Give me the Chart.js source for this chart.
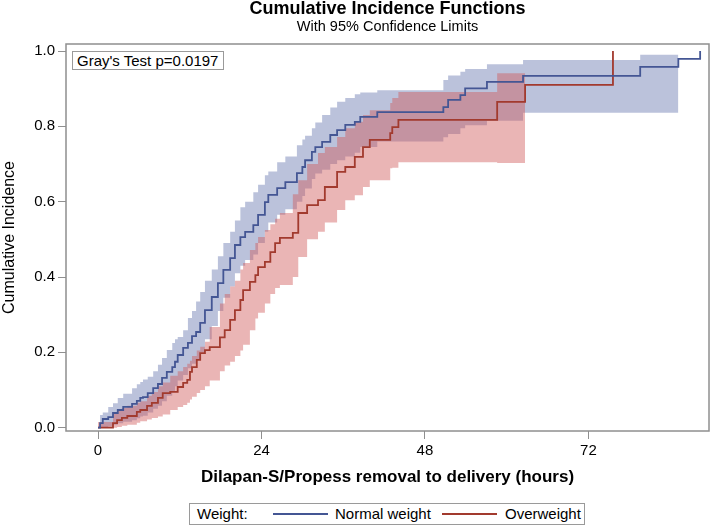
<!DOCTYPE html>
<html>
<head>
<meta charset="utf-8">
<title>Cumulative Incidence Functions</title>
<script src="https://cdn.jsdelivr.net/npm/chart.js@4.4.1/dist/chart.umd.min.js"></script>
<style>
    body { margin: 0; background: #fff; }
    #wrap { position: relative; width: 710px; height: 526px; font-family: "Liberation Sans", Arial, sans-serif; color: #000; }
    #chart { position: absolute; left: 0; top: 0; }
    .gray-test { position: absolute; left: 72px; top: 51px; width: 146px; height: 17px; padding-left: 4px;
        border: 1px solid #9a9a9a; background: #fff; font-size: 15px; line-height: 17px; white-space: nowrap; }
    .legend { position: absolute; left: 189px; top: 503px; width: 394px; height: 20px; border: 1px solid #9a9a9a; background: #fff; }
    .legend span { position: absolute; top: 0; font-size: 15px; line-height: 20px; white-space: nowrap; }
    .legend i { position: absolute; top: 9px; width: 55px; height: 2px; }
</style>
</head>
<body>
<div id="wrap">
    <canvas id="chart" width="710" height="526"></canvas>
    <div class="gray-test" id="grayTest"></div>
    <div class="legend">
        <span style="left:7px">Weight:</span>
        <i style="left:83px;background:#445694"></i>
        <span id="leg0" style="left:145px"></span>
        <i style="left:252px;background:#A23A2E"></i>
        <span id="leg1" style="left:315px"></span>
    </div>
</div>
<script>
const groups = ['Normal weight', 'Overweight'];
const grayP = 0.0197;

// Normal weight: event times (hours) and cumulative incidence
const blueTime = [0, 0.3, 0.7, 1.5, 2.2, 2.9, 3.7, 5.0, 5.7, 6.2,
    6.6, 7.3, 8.1, 8.8, 9.4, 10.1, 10.9, 11.3, 11.7, 12.5,
    13.2, 13.8, 14.4, 15.0, 15.7, 16.7, 17.6, 18.4, 19.4, 20.1,
    20.9, 21.6, 22.8, 23.5, 24.5, 25.0, 26.3, 27.5, 29.2, 30.0,
    30.4, 31.4, 31.9, 32.9, 34.1, 35.1, 36.3, 37.7, 38.5, 41.0,
    50.7, 51.4, 53.2, 53.9, 57.1, 62.4, 79.6, 85.2, 88.4];
const blueCif = [0, 0.012, 0.023, 0.028, 0.039, 0.047, 0.055, 0.063, 0.071, 0.079,
    0.081, 0.092, 0.105, 0.116, 0.132, 0.148, 0.161, 0.175, 0.193, 0.212,
    0.225, 0.243, 0.254, 0.278, 0.312, 0.347, 0.384, 0.419, 0.450, 0.485,
    0.506, 0.520, 0.538, 0.565, 0.599, 0.618, 0.636, 0.652, 0.676, 0.692,
    0.710, 0.732, 0.745, 0.759, 0.777, 0.790, 0.804, 0.812, 0.825, 0.838,
    0.851, 0.870, 0.883, 0.901, 0.918, 0.934, 0.958, 0.979, 1.0];
// 95% limits, same times (band stops at 85.2)
const blueUpper = [0, 0.034, 0.040, 0.055, 0.065, 0.079, 0.090, 0.105, 0.115, 0.121,
    0.128, 0.135, 0.150, 0.167, 0.185, 0.206, 0.225, 0.235, 0.241, 0.259,
    0.291, 0.310, 0.335, 0.360, 0.390, 0.420, 0.455, 0.490, 0.520, 0.550,
    0.585, 0.600, 0.625, 0.645, 0.670, 0.680, 0.705, 0.720, 0.750, 0.765,
    0.775, 0.795, 0.810, 0.830, 0.850, 0.865, 0.875, 0.885, 0.890, 0.896,
    0.923, 0.935, 0.945, 0.952, 0.965, 0.976, 0.990, 0.990];
const blueLower = [0, 0, 0.002, 0.004, 0.008, 0.012, 0.016, 0.020, 0.025, 0.030,
    0.032, 0.040, 0.050, 0.058, 0.070, 0.085, 0.097, 0.110, 0.125, 0.140,
    0.158, 0.170, 0.180, 0.200, 0.235, 0.270, 0.310, 0.345, 0.375, 0.410,
    0.430, 0.445, 0.460, 0.490, 0.520, 0.545, 0.565, 0.580, 0.600, 0.615,
    0.635, 0.660, 0.675, 0.685, 0.700, 0.710, 0.720, 0.730, 0.745, 0.760,
    0.771, 0.780, 0.795, 0.803, 0.815, 0.836, 0.836, 0.836];

// Overweight
const redTime = [0, 2.2, 2.8, 3.5, 4.3, 5.7, 6.2, 7.2, 7.9, 8.8,
    9.5, 10.6, 11.7, 12.5, 13.1, 13.5, 13.8, 14.5, 15.0, 15.7,
    16.4, 17.9, 18.6, 19.4, 20.1, 20.9, 21.3, 22.3, 23.1, 23.5,
    24.5, 25.3, 26.0, 26.7, 28.6, 29.4, 30.7, 32.3, 33.3, 35.1,
    36.3, 37.7, 38.9, 39.9, 42.9, 43.2, 44.1, 58.6, 62.7, 75.6];
const redCif = [0, 0.012, 0.020, 0.026, 0.031, 0.042, 0.047, 0.058, 0.066, 0.079,
    0.092, 0.095, 0.108, 0.119, 0.127, 0.148, 0.161, 0.180, 0.198, 0.206,
    0.214, 0.240, 0.259, 0.286, 0.312, 0.339, 0.365, 0.387, 0.405, 0.426,
    0.440, 0.466, 0.490, 0.504, 0.517, 0.570, 0.591, 0.604, 0.639, 0.679,
    0.692, 0.719, 0.745, 0.764, 0.782, 0.798, 0.817, 0.865, 0.910, 1.0];
const redUpper = [0.015, 0.040, 0.048, 0.052, 0.058, 0.066, 0.070, 0.085, 0.095, 0.110,
    0.120, 0.138, 0.150, 0.161, 0.170, 0.178, 0.190, 0.205, 0.215, 0.228,
    0.267, 0.330, 0.355, 0.375, 0.390, 0.420, 0.437, 0.472, 0.490, 0.506,
    0.525, 0.540, 0.555, 0.570, 0.620, 0.657, 0.700, 0.729, 0.745, 0.772,
    0.795, 0.812, 0.830, 0.843, 0.862, 0.875, 0.891, 0.941, 0.941];
const redLower = [0, 0, 0.002, 0.005, 0.008, 0.013, 0.017, 0.022, 0.026, 0.030,
    0.035, 0.047, 0.055, 0.060, 0.066, 0.075, 0.082, 0.092, 0.100, 0.110,
    0.125, 0.150, 0.165, 0.175, 0.190, 0.205, 0.220, 0.259, 0.290, 0.305,
    0.330, 0.355, 0.371, 0.379, 0.400, 0.453, 0.500, 0.520, 0.545, 0.578,
    0.604, 0.617, 0.639, 0.657, 0.689, 0.690, 0.705, 0.703, 0.703];

const xTicks = [0, 24, 48, 72];
const yTicks = [0, 0.2, 0.4, 0.6, 0.8, 1.0];

const fontFamily = '"Liberation Sans", Arial, sans-serif';
const axisGray = '#8f8f8f';

document.getElementById('grayTest').textContent = "Gray's Test p=" + grayP.toFixed(4);
document.getElementById('leg0').textContent = groups[0];
document.getElementById('leg1').textContent = groups[1];

function toPoints(xs, ys) {
    return ys.map((y, i) => ({ x: xs[i], y: y }));
}

function bandSet(label, xs, ys, fill, color) {
    return {
        label: label,
        data: toPoints(xs, ys),
        stepped: 'before',
        borderWidth: 0,
        borderColor: 'rgba(0,0,0,0)',
        backgroundColor: color,
        pointRadius: 0,
        fill: fill
    };
}

// plot frame round the chart area
const framePlugin = {
    id: 'frame',
    afterDatasetsDraw(chart) {
        const { ctx, chartArea: a } = chart;
        ctx.save();
        ctx.strokeStyle = axisGray;
        ctx.lineWidth = 1.5;
        ctx.strokeRect(a.left, a.top, a.right - a.left, a.bottom - a.top);
        ctx.restore();
    }
};

new Chart(document.getElementById('chart'), {
    type: 'line',
    data: {
        datasets: [
            { label: groups[0], data: toPoints(blueTime, blueCif), stepped: 'before', borderColor: '#445694', borderWidth: 1.8, pointRadius: 0, fill: false },
            { label: groups[1], data: toPoints(redTime, redCif), stepped: 'before', borderColor: '#A23A2E', borderWidth: 1.8, pointRadius: 0, fill: false },
            bandSet('Overweight upper', redTime, redUpper, '+1', 'rgba(208,91,91,0.45)'),
            bandSet('Overweight lower', redTime, redLower, false, 'rgba(0,0,0,0)'),
            bandSet('Normal weight upper', blueTime, blueUpper, '+1', 'rgba(111,126,179,0.47)'),
            bandSet('Normal weight lower', blueTime, blueLower, false, 'rgba(0,0,0,0)')
        ]
    },
    options: {
        responsive: false,
        animation: false,
        devicePixelRatio: 1,
        layout: { padding: { left: 0, right: 1, top: 0, bottom: 29 } },
        plugins: {
            legend: { display: false },
            tooltip: { enabled: false },
            title: {
                display: true,
                text: 'Cumulative Incidence Functions',
                fullSize: false,
                color: '#000',
                font: { family: fontFamily, size: 18, weight: 'bold', lineHeight: 1 },
                padding: { top: 0, bottom: 2 }
            },
            subtitle: {
                display: true,
                text: 'With 95% Confidence Limits',
                fullSize: false,
                color: '#000',
                font: { family: fontFamily, size: 14.5, lineHeight: 1 },
                padding: { top: 0, bottom: 9.5 }
            }
        },
        scales: {
            x: {
                type: 'linear',
                min: -4.7,
                max: 89.7,
                afterBuildTicks: s => { s.ticks = xTicks.map(v => ({ value: v })); },
                afterFit: s => { s.height = 66; },
                border: { display: false },
                grid: { drawOnChartArea: false, tickLength: 8, color: axisGray, lineWidth: 1 },
                ticks: { color: '#000', padding: 3, maxRotation: 0, font: { family: fontFamily, size: 15 } },
                title: {
                    display: true,
                    text: 'Dilapan-S/Propess removal to delivery (hours)',
                    color: '#000',
                    font: { family: fontFamily, size: 17, weight: 'bold' },
                    padding: { top: 0, bottom: 9 }
                }
            },
            y: {
                min: -0.0088,
                max: 1.0186,
                afterBuildTicks: s => { s.ticks = yTicks.map(v => ({ value: v })); },
                afterFit: s => { s.width = 66; },
                border: { display: false },
                grid: { drawOnChartArea: false, tickLength: 8, color: axisGray, lineWidth: 1 },
                ticks: {
                    color: '#000',
                    padding: 3,
                    font: { family: fontFamily, size: 15 },
                    callback: v => v.toFixed(1)
                },
                title: {
                    display: true,
                    text: 'Cumulative Incidence',
                    color: '#000',
                    font: { family: fontFamily, size: 16 },
                    padding: { top: 0, bottom: 0 }
                }
            }
        }
    },
    plugins: [framePlugin]
});
</script>
</body>
</html>
